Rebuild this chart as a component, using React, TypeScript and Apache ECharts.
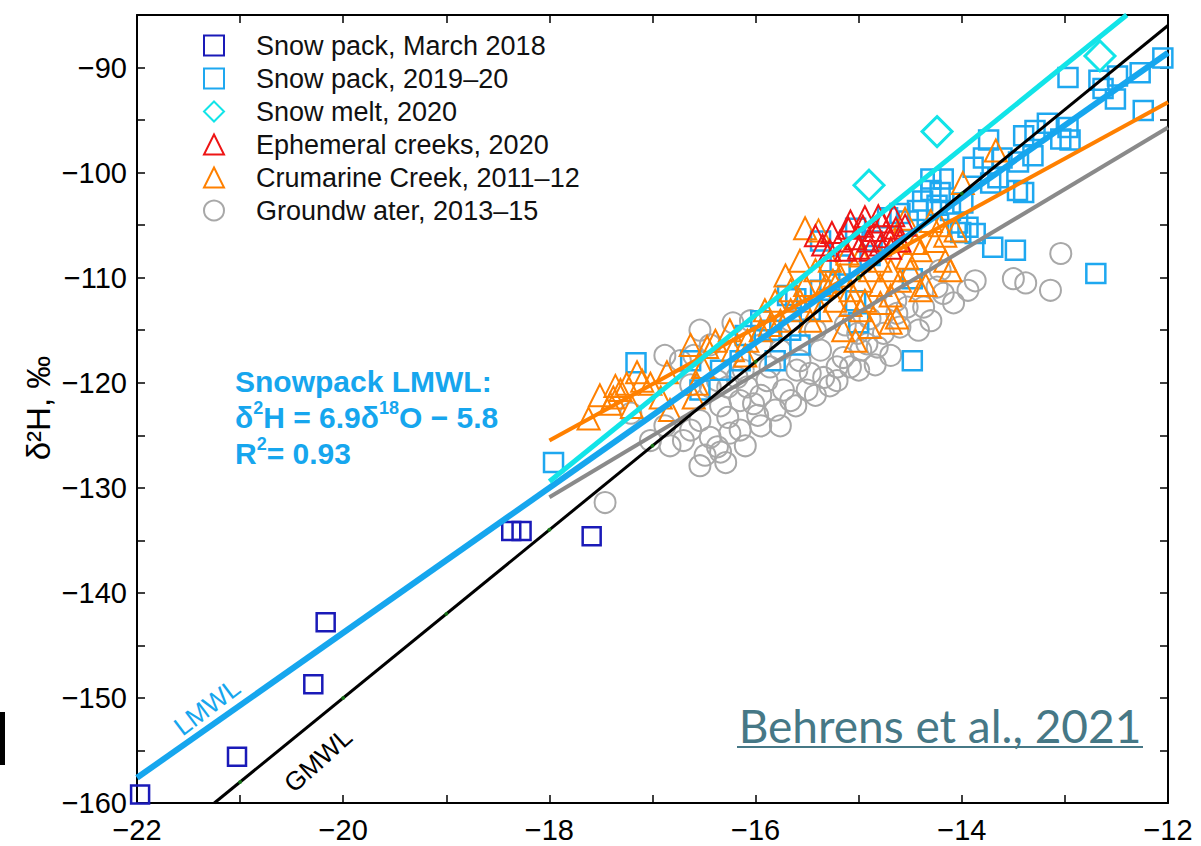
import React, { useEffect, useRef } from "react";
import * as echarts from "echarts";

// ---- data (δ18O, δ2H) ----
const snowMarch2018: number[][] = [
  [-21.97, -159.2], [-21.03, -155.6], [-20.29, -148.7], [-20.17, -142.8],
  [-18.37, -134.1], [-18.27, -134.1], [-17.59, -134.6],
];

const snow2019: number[][] = [
  [-12.97, -90.95], [-12.67, -91.2], [-12.49, -90.8], [-12.27, -90.5], [-12.05, -89.1],
  [-12.24, -94.1], [-12.51, -93.0], [-12.63, -92.0], [-12.97, -95.7], [-13.04, -96.8],
  [-12.95, -96.9], [-13.17, -95.3], [-13.29, -96.0], [-13.4, -96.5], [-13.31, -98.4],
  [-13.45, -99.0], [-13.61, -98.6], [-13.74, -96.9], [-13.79, -98.6], [-13.4, -101.9],
  [-13.46, -101.7], [-13.65, -100.5], [-13.72, -101.0], [-13.89, -99.5], [-13.99, -102.9],
  [-14.04, -104.8], [-13.94, -105.2], [-14.3, -100.6], [-14.18, -100.6], [-14.21, -101.9],
  [-14.3, -101.7], [-14.38, -102.7], [-14.24, -103.1], [-14.11, -103.6], [-14.43, -103.6],
  [-14.52, -104.6], [-14.6, -103.9], [-14.72, -104.3], [-13.87, -105.8], [-14.01, -105.7],
  [-13.7, -107.1], [-14.48, -110.1], [-14.89, -107.9], [-15.03, -105.3], [-14.87, -106.5],
  [-15.18, -108.8], [-15.0, -114.3], [-15.03, -112.2], [-14.48, -117.9], [-12.7, -109.6],
  [-13.48, -107.4], [-15.69, -111.7], [-15.61, -112.0], [-15.95, -114.1], [-15.86, -115.0],
  [-16.1, -115.5], [-15.57, -116.4], [-15.81, -117.9], [-16.15, -117.9], [-16.34, -118.8],
  [-15.66, -115.0], [-15.47, -113.1], [-15.37, -111.2], [-16.63, -117.9], [-17.16, -118.1],
  [-17.96, -127.6], [-16.54, -120.7], [-15.28, -110.3], [-15.37, -106.5],
];

const snowMelt2020: number[][] = [
  [-14.9, -101.2], [-14.24, -96.1], [-12.66, -88.9],
];

const ephemeral2020: number[][] = [
  [-15.35, -106.9], [-15.26, -105.7], [-15.18, -106.5], [-15.1, -105.3], [-15.03, -106.3],
  [-14.96, -105.1], [-14.91, -106.5], [-14.84, -105.5], [-14.77, -104.7], [-14.71, -106.1],
  [-14.64, -105.3], [-14.6, -106.5], [-15.13, -107.4], [-15.0, -107.2], [-14.89, -107.4],
  [-14.79, -106.9], [-14.69, -107.2], [-15.08, -104.6], [-14.94, -104.2], [-14.81, -104.1],
  [-14.66, -104.1], [-14.55, -105.0], [-15.28, -107.4], [-15.42, -106.0],
];

const crumarine: number[][] = [
  [-17.62, -123.4], [-17.41, -122.0], [-17.38, -121.4], [-17.31, -120.7], [-17.25, -120.1],
  [-17.15, -119.0], [-17.1, -119.8], [-17.2, -122.3], [-17.02, -120.1], [-16.92, -121.4],
  [-16.86, -119.0], [-16.83, -122.6], [-16.6, -121.4], [-16.51, -118.5], [-16.47, -116.6],
  [-16.57, -120.1], [-16.22, -116.9], [-16.08, -116.0], [-17.51, -121.2], [-17.36, -120.3],
  [-15.52, -105.3], [-15.39, -105.5], [-14.55, -104.4], [-13.99, -101.0], [-13.67, -97.9],
  [-14.63, -113.8], [-14.79, -112.4], [-14.89, -114.7], [-14.98, -113.1], [-14.4, -111.2],
  [-14.4, -107.4], [-15.03, -116.0], [-15.25, -110.3], [-15.11, -107.7], [-14.69, -109.3],
  [-14.53, -108.1], [-15.57, -108.4], [-15.42, -109.3], [-15.32, -110.7], [-15.18, -109.8],
  [-15.08, -111.2], [-14.98, -110.3], [-14.89, -109.3], [-14.79, -110.7], [-14.69, -111.7],
  [-14.6, -110.3], [-14.5, -109.3], [-14.26, -106.5], [-14.16, -106.0], [-14.06, -105.5],
  [-14.79, -108.4], [-14.94, -112.2], [-15.08, -112.6], [-15.23, -112.2], [-15.37, -113.1],
  [-15.47, -114.1], [-15.57, -112.2], [-15.66, -113.1], [-15.76, -114.1], [-15.86, -114.5],
  [-15.95, -115.0], [-14.3, -104.6], [-14.21, -105.0], [-15.66, -111.2], [-15.81, -112.2],
  [-15.91, -113.1], [-15.71, -109.8], [-15.52, -110.7], [-15.28, -108.4], [-14.98, -107.9],
  [-14.64, -106.5], [-14.45, -106.7], [-14.16, -108.4], [-14.11, -109.3], [-14.35, -110.7],
  [-15.15, -115.0], [-14.69, -114.3], [-16.25, -115.0], [-16.39, -116.0], [-16.1, -117.4],
  [-16.63, -116.4],
];

const groundwater: number[][] = [
  [-17.46, -131.4], [-16.63, -124.5], [-16.44, -125.2], [-16.29, -127.6], [-16.37, -126.1],
  [-16.54, -123.6], [-16.7, -125.5], [-16.25, -124.8], [-16.27, -123.3], [-15.98, -123.1],
  [-16.02, -122.0], [-15.66, -121.7], [-15.73, -120.7], [-15.5, -120.7], [-15.21, -118.5],
  [-15.08, -118.5], [-15.15, -117.6], [-14.92, -116.3], [-14.76, -115.3], [-14.6, -114.7],
  [-14.53, -112.8], [-14.37, -112.8], [-14.24, -110.9], [-14.18, -111.5], [-15.21, -119.8],
  [-15.34, -119.5], [-15.47, -119.1], [-15.6, -118.8], [-15.89, -119.8], [-15.86, -118.5],
  [-16.12, -118.8], [-16.08, -120.4], [-16.37, -119.8], [-16.44, -120.4], [-16.27, -120.4],
  [-16.18, -119.5], [-14.98, -116.9], [-14.82, -116.6], [-15.01, -115.3], [-14.63, -113.4],
  [-16.22, -114.3], [-16.05, -114.1], [-16.6, -117.4], [-13.04, -107.7], [-13.5, -110.1],
  [-13.38, -110.5], [-13.14, -111.2], [-13.87, -110.3], [-13.94, -111.2], [-14.08, -112.4],
  [-14.3, -114.1], [-14.42, -115.0], [-14.69, -117.4], [-14.84, -118.3], [-15.0, -118.8],
  [-15.37, -116.9], [-15.57, -117.9], [-15.76, -116.9], [-15.95, -116.4], [-16.54, -115.0],
  [-16.44, -116.4], [-16.73, -117.9], [-16.88, -117.4], [-16.63, -120.2], [-17.02, -125.5],
  [-16.83, -126.0], [-16.49, -126.9], [-16.34, -126.6], [-16.15, -124.5], [-15.95, -124.1],
  [-15.81, -122.6], [-15.61, -122.2], [-15.42, -121.2], [-15.28, -120.3], [-15.95, -121.2],
  [-16.15, -121.7], [-16.34, -122.2], [-16.1, -126.0], [-16.54, -127.9], [-16.88, -124.1],
  [-15.76, -124.1], [-17.21, -122.9], [-15.66, -114.1], [-15.42, -115.0], [-15.13, -114.5],
  [-14.89, -113.9], [-14.64, -112.2], [-14.21, -109.3],
];

// regression / reference lines (end points)
const gmwl: number[][] = [[-21.25, -160], [-12, -86]];
const gmwlDots: number[][] = [
  [-21, -158], [-20, -150], [-19, -142], [-18, -134], [-17, -126], [-16, -118], [-15, -110], [-14, -102],
];
const lmwl: number[][] = [[-22, -157.6], [-12, -88.6]];
const meltLine: number[][] = [[-18, -129.4], [-12.4, -85]];
const creekLine: number[][] = [[-18, -125.5], [-12, -93.3]];
const gwLine: number[][] = [[-18, -130.9], [-12, -95.7]];

const legendNames = [
  "Snow pack, March 2018",
  "Snow pack, 2019\u201320",
  "Snow melt, 2020",
  "Ephemeral creeks, 2020",
  "Crumarine Creek, 2011\u201312",
  "Groundw ater, 2013\u201315",
];

const C = {
  dark: "#1a1ab8",
  light: "#1ea8f0",
  lmwl: "#16a6ee",
  cyan: "#12e4e8",
  red: "#ee1515",
  orange: "#ff8000",
  gray: "#a8a8a8",
  grayLine: "#8a8a8a",
};

const FONT = "'Liberation Sans', Arial, Helvetica, sans-serif";
const minus = (v: number) => String(v).replace("-", "\u2212");

function hollow(name: string, data: number[][], symbol: string, size: number, color: string, bw: number, z: number) {
  return {
    name,
    type: "scatter",
    data,
    symbol,
    symbolSize: size,
    z,
    itemStyle: { color: "rgba(0,0,0,0)", borderColor: color, borderWidth: bw, opacity: 1 },
    emphasis: { disabled: true },
  };
}

function seg(data: number[][], color: string, width: number, z: number) {
  return {
    type: "line",
    data,
    symbol: "none",
    z,
    lineStyle: { color, width, cap: "butt" },
    silent: true,
  };
}

export default function App() {
  const ref = useRef<HTMLDivElement>(null);
  useEffect(() => {
    if (!ref.current) return;
    const chart = echarts.init(ref.current, undefined, { renderer: "svg" });
    const axisCommon = {
      type: "value",
      axisLine: { show: true, onZero: false, lineStyle: { color: "#000", width: 2 } },
      axisTick: { show: true, inside: true, length: 8, lineStyle: { color: "#000", width: 1.5 } },
      splitLine: { show: false },
    };
    chart.setOption({
      animation: false,
      backgroundColor: "#fff",
      grid: { left: 137, right: 33, top: 15, bottom: 43, containLabel: false },
      xAxis: [
        {
          ...axisCommon,
          min: -22, max: -12, interval: 1,
          axisLabel: {
            fontSize: 29, fontFamily: FONT, color: "#000", margin: 12,
            formatter: (v: number) => (Math.round(v) % 2 === 0 ? minus(v) : ""),
          },
        },
        { ...axisCommon, position: "top", min: -22, max: -12, interval: 1, axisLabel: { show: false } },
      ],
      yAxis: [
        {
          ...axisCommon,
          min: -160, max: -85, interval: 5,
          axisLabel: {
            fontSize: 29, fontFamily: FONT, color: "#000", margin: 10,
            formatter: (v: number) => (Math.round(v) % 10 === 0 ? minus(v) : ""),
          },
        },
        { ...axisCommon, position: "right", min: -160, max: -85, interval: 5, axisLabel: { show: false } },
      ],
      legend: {
        data: legendNames,
        orient: "vertical",
        left: 203,
        top: 32,
        padding: 0,
        itemGap: 6,
        itemWidth: 20,
        itemHeight: 20,
        selectedMode: false,
        textStyle: { fontSize: 27, fontFamily: FONT, color: "#111", lineHeight: 26, padding: [0, 0, 0, 27] },
      },
      series: [
        hollow(legendNames[5], groundwater, "circle", 21, C.gray, 2, 2),
        hollow(legendNames[0], snowMarch2018, "rect", 18, C.dark, 2.5, 3),
        hollow(legendNames[1], snow2019, "rect", 19, C.light, 2.5, 3),
        hollow(legendNames[4], crumarine, "triangle", 22, C.orange, 2, 4),
        hollow(legendNames[3], ephemeral2020, "triangle", 21, C.red, 2, 5),
        hollow(legendNames[2], snowMelt2020, "diamond", 30, C.cyan, 3, 5),
        seg(gwLine, C.grayLine, 4, 6),
        seg(creekLine, C.orange, 4, 6),
        seg(lmwl, C.lmwl, 6, 7),
        seg(meltLine, C.cyan, 5, 7),
        seg(gmwl, "#000", 3, 8),
        {
          type: "scatter", data: gmwlDots, symbol: "circle", symbolSize: 4, z: 9, silent: true,
          itemStyle: { color: "#1a8a1a" },
        },
      ],
      graphic: [
        {
          type: "text", left: 235, top: 366, z: 20,
          style: {
            text: "{b|Snowpack LMWL:}\n{b|\u03b4}{s|2}{b|H = 6.9\u03b4}{s|18}{b|O \u2212 5.8}\n{b|R}{s|2}{b|= 0.93}",
            rich: {
              b: { fontSize: 30, fontWeight: "bold", fontFamily: FONT, fill: C.lmwl, color: C.lmwl, lineHeight: 36 },
              s: { fontSize: 18, fontWeight: "bold", fontFamily: FONT, fill: C.lmwl, color: C.lmwl, verticalAlign: "top", lineHeight: 30 },
            },
          },
        },
        {
          type: "text", x: 207, y: 707, rotation: (37 * Math.PI) / 180, z: 20,
          style: { text: "LMWL", fontSize: 26, fontFamily: FONT, fill: C.lmwl, align: "center", verticalAlign: "middle" },
        },
        {
          type: "text", x: 318, y: 760, rotation: (42 * Math.PI) / 180, z: 20,
          style: { text: "GMWL", fontSize: 26, fontFamily: FONT, fill: "#000", align: "center", verticalAlign: "middle" },
        },
        {
          type: "text", x: 38, y: 408, rotation: Math.PI / 2, z: 20,
          style: { text: "\u03b4\u00b2H, \u2030", fontSize: 33, fontFamily: FONT, fill: "#000", align: "center", verticalAlign: "middle" },
        },
        {
          type: "text", x: 940, y: 725, z: 20,
          style: { text: "Behrens et al., 2021", fontSize: 46, fontFamily: "Lato, 'Noto Sans', sans-serif", fill: "#467886", align: "center", verticalAlign: "middle" },
        },
        {
          type: "line", z: 20,
          shape: { x1: 737, y1: 747, x2: 1143, y2: 747 },
          style: { stroke: "#467886", lineWidth: 2 },
        },
        {
          type: "rect", z: 20,
          shape: { x: 0, y: 712, width: 5, height: 53 },
          style: { fill: "#000" },
        },
      ],
    });
    return () => chart.dispose();
  }, []);
  return (
    <div
      ref={ref}
      style={{ position: "absolute", left: 0, top: 0, width: 1201, height: 846, background: "#fff" }}
    />
  );
}
